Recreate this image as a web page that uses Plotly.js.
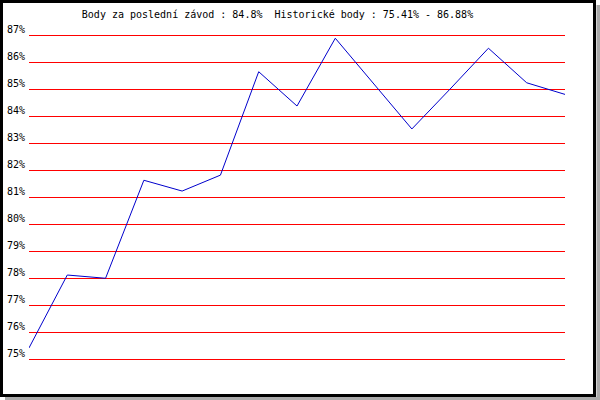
<!DOCTYPE html>
<html>
<head>
<meta charset="utf-8">
<script src="https://cdn.plot.ly/plotly-3.0.1.min.js"></script>
<style>html,body{margin:0;padding:0;background:#fff;}#chart{width:600px;height:400px;}</style>
</head>
<body>
<div id="chart"></div>
<script>
const races = [1,2,3,4,5,6,7,8,9,10,11,12,13,14,15];
const points = [75.41, 78.11, 77.99, 81.62, 81.22, 81.81, 85.64, 84.37, 86.88, 85.20, 83.52, 85.00, 86.51, 85.23, 84.80];
const tickValues = [75,76,77,78,79,80,81,82,83,84,85,86,87];
const tickLabels = tickValues.map(v => v + '%');
const titleText = 'Body za poslední závod : 84.8%\u00a0 Historické body : 75.41% - 86.88%';

const W = 600, H = 400, L = 29, R = 35, T = 32, B = 38;
const pw = W - L - R, ph = H - T - B;
const px = x => (x - L) / pw;
const py = y => (H - B - y) / ph;
const pad = 3 / 27;

const trace = {
  x: races, y: points, type: 'scatter', mode: 'lines',
  line: {color: '#0000cc', width: 1}, cliponaxis: false, hoverinfo: 'none'
};

const layout = {
  width: W, height: H,
  margin: {l: L, r: R, t: T, b: B, pad: 0},
  paper_bgcolor: '#ffffff', plot_bgcolor: '#ffffff',
  font: {family: '"DejaVu Sans Mono", monospace', size: 10, color: '#000'},
  showlegend: false,
  title: {text: titleText, xref: 'container', yref: 'container', x: 277.5/600, xanchor: 'center', y: 1 - 14/400, yanchor: 'middle', font: {family: '"DejaVu Sans Mono", monospace', size: 10, color: '#000'}},
  xaxis: {range: [1, 15], showgrid: false, zeroline: false, showline: false, showticklabels: false, ticks: '', fixedrange: true},
  yaxis: {range: [75 - pad, 87 + pad], tickvals: tickValues, ticktext: tickLabels, showgrid: true, gridcolor: '#ff0000', gridwidth: 1, zeroline: false, showline: false, ticks: '', ticklabelstandoff: 3, ticklabelshift: -6, fixedrange: true},
  shapes: [
    {type: 'rect', xref: 'paper', yref: 'paper', x0: px(596.5), x1: px(600), y0: py(5), y1: py(400), fillcolor: '#aaaaaa', line: {width: 0}, layer: 'above'},
    {type: 'rect', xref: 'paper', yref: 'paper', x0: px(5), x1: px(600), y0: py(397), y1: py(400), fillcolor: '#aaaaaa', line: {width: 0}, layer: 'above'},
    {type: 'rect', xref: 'paper', yref: 'paper', x0: px(1.5), x1: px(594.5), y0: py(1.5), y1: py(395.5), line: {color: '#000', width: 3}, layer: 'above'}
  ]
};

Plotly.newPlot('chart', [trace], layout, {staticPlot: true, displayModeBar: false});
</script>
</body>
</html>
